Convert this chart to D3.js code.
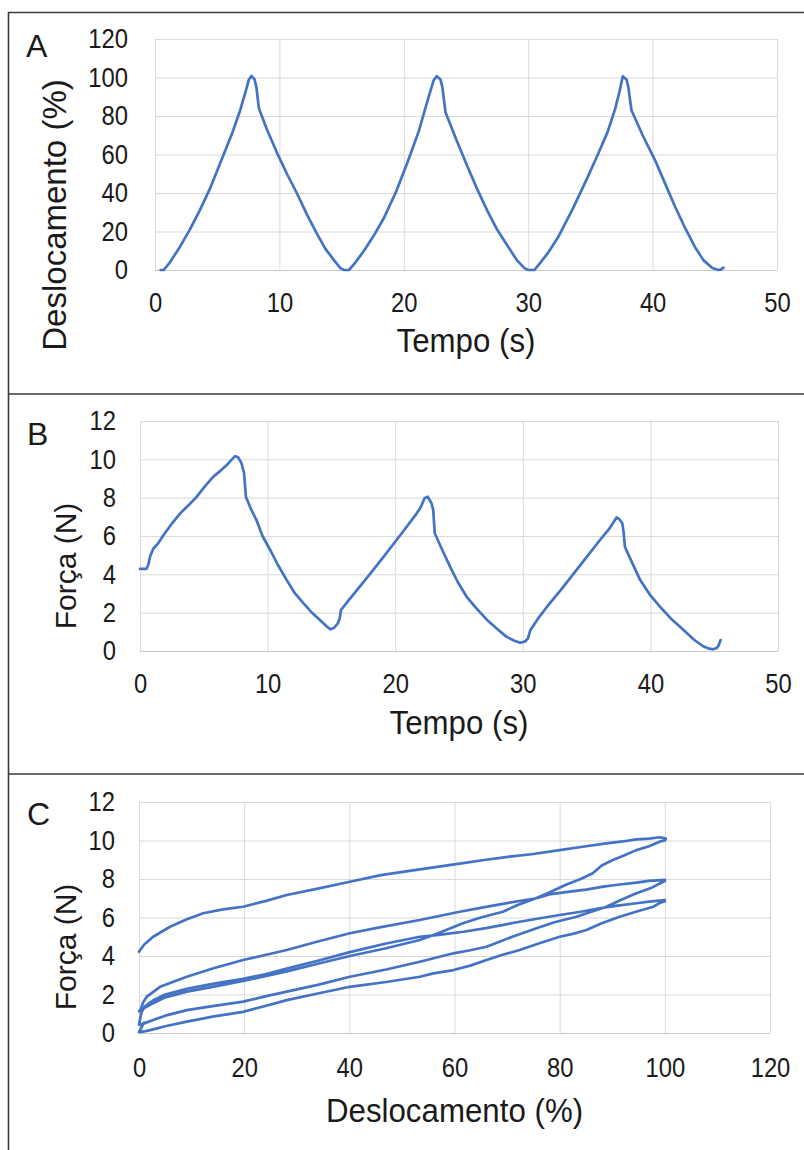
<!DOCTYPE html>
<html>
<head>
<meta charset="utf-8">
<script src="https://cdn.jsdelivr.net/npm/d3@7"></script>
<style>
    html, body { margin: 0; padding: 0; background: #fff; }
    svg text { font-family: "Liberation Sans", Arial, sans-serif; fill: #1a1a1a; }
</style>
</head>
<body>
<svg id="chart" width="804" height="1150"></svg>
<script>
// ---- data ----

// A: displacement (%) against time (s)
const timeA = [0.45, 0.7, 1.2, 2.0, 2.8, 3.6, 4.4, 5.4, 6.2, 6.85, 7.3, 7.55, 7.75, 8.0, 8.15, 8.35, 9.0, 9.8, 10.6, 11.4, 12.2, 13.0, 13.7, 14.4, 14.9, 15.2, 15.6,
    16.0, 16.8, 17.6, 18.4, 19.4, 20.3, 21.2, 22.0, 22.4, 22.65, 22.95, 23.1, 23.35, 24.2, 25.1, 25.9, 26.7, 27.5, 28.4, 29.1, 29.7, 30.0, 30.5,
    31.0, 31.6, 32.4, 33.6, 34.8, 35.6, 36.4, 37.0, 37.35, 37.6, 37.9, 38.05, 38.3, 39.2, 40.2, 41.0, 41.8, 42.6, 43.4, 44.1, 44.8, 45.3, 45.5, 45.7];
const dispA = [0, 0, 4, 12, 21, 31, 42, 58, 71, 83, 93, 99, 100.8, 99, 95, 84, 73, 61, 50, 40, 29, 19, 11, 5, 1, 0, 0,
    3, 10, 18, 27, 41, 56, 72, 90, 98.5, 100.7, 99, 95, 82, 68, 54, 42, 31, 21, 12, 5, 1, 0, 0,
    4, 9, 17, 32, 48.5, 60, 72, 84, 93, 100.6, 99, 95, 83, 70, 57, 45, 33, 22, 12, 5, 1, 0, 0.3, 1.2];

// B: force (N) against time (s)
const timeB = [0, 0.5, 0.65, 0.8, 1.05, 1.4, 1.85, 2.5, 3.15, 3.8, 4.45, 5.1, 5.75, 6.3, 6.8, 7.2, 7.45, 7.7, 7.95, 8.15, 8.25, 8.3, 8.7, 9.15, 9.6, 10.2,
    10.8, 11.5, 12.1, 12.8, 13.4, 14.1, 14.6, 14.9, 15.2, 15.5, 15.65, 15.75, 16.3, 17.0, 18.0, 19.1, 20.0, 20.9, 21.6, 22.0, 22.3, 22.55,
    22.85, 22.98, 23.1, 23.6, 24.3, 24.9, 25.6, 26.4, 27.2, 28.0, 28.7, 29.3, 29.8, 30.2, 30.4, 30.6, 31.2, 31.9, 33.0, 34.0, 35.0, 36.05,
    36.8, 37.35, 37.6, 37.8, 37.9, 38.0, 38.5, 39.2, 40.0, 40.75, 41.6, 42.6, 43.4, 44.1, 44.6, 44.9, 45.2, 45.35, 45.5];
const forceB = [4.28, 4.28, 4.5, 4.95, 5.35, 5.6, 6.05, 6.65, 7.18, 7.6, 8.05, 8.6, 9.1, 9.4, 9.7, 10.0, 10.17, 10.1, 9.8, 9.3, 8.5, 8.05, 7.4, 6.8, 6.0, 5.27,
    4.5, 3.7, 3.05, 2.5, 2.05, 1.62, 1.3, 1.13, 1.2, 1.44, 1.7, 2.14, 2.6, 3.18, 4.0, 4.92, 5.7, 6.48, 7.1, 7.5, 7.97, 8.05,
    7.7, 7.36, 6.14, 5.4, 4.4, 3.6, 2.83, 2.2, 1.62, 1.15, 0.75, 0.55, 0.43, 0.5, 0.66, 1.1, 1.7, 2.31, 3.2, 4.05, 4.9, 5.79,
    6.4, 6.97, 6.85, 6.66, 6.2, 5.44, 4.7, 3.7, 2.9, 2.31, 1.7, 1.1, 0.6, 0.26, 0.12, 0.09, 0.15, 0.3, 0.57];

// C: force (N) against displacement (%), three load/unload loops in time order
const dispC = [0, 1, 2.7, 5.9, 9, 12.2, 16, 19.8, 24, 28.1, 34, 40.1, 46, 53.4, 61, 66, 70.5, 75, 80, 85, 88.9, 92, 94.6, 97, 99, 100.2,
    100, 99, 97, 94.6, 92, 90.1, 88, 86.3, 84, 81.2, 78, 75.5, 72, 69.2, 65, 61.6, 57, 53.4, 47, 40.1, 34, 28.1, 24, 19.8, 14, 9.1, 5, 2.7, 1, 0,
    0.3, 0.8, 1.5, 4, 9.1, 14, 19.8, 24, 28.1, 34, 40.1, 46, 53.4, 61, 66, 70, 75.6, 78, 81.9, 85, 88.3, 91, 94.6, 97, 100,
    100, 97.5, 94.6, 91.5, 88.9, 86, 83.2, 79, 75.6, 71, 66.1, 63, 59.8, 53.4, 47, 40.1, 34, 28.1, 24, 19.8, 14, 9.1, 5, 2.7, 1, 0,
    0.2, 0.5, 1.2, 2.7, 5, 9.1, 14, 19.8, 24, 28.1, 34, 40.1, 47, 53.4, 57, 61.7, 66, 72.4, 76, 80, 84, 87.6, 91, 94.6, 97, 100,
    100, 99, 97.8, 94.5, 91.4, 88, 85.1, 82.5, 80, 76, 72.4, 69, 66.1, 63, 59.8, 56, 53.4, 47, 40.1, 34, 28.1, 24, 19.8, 14, 9.1, 5, 2.7, 1, 0, 0.5, 1];
const forceC = [4.22, 4.6, 5.0, 5.52, 5.9, 6.22, 6.42, 6.56, 6.85, 7.17, 7.5, 7.86, 8.2, 8.5, 8.8, 9.0, 9.16, 9.3, 9.5, 9.7, 9.85, 9.95, 10.06, 10.1, 10.17, 10.1,
    10.0, 9.94, 9.7, 9.5, 9.2, 8.99, 8.7, 8.3, 8.0, 7.7, 7.3, 7.0, 6.65, 6.3, 6.0, 5.7, 5.2, 4.83, 4.4, 4.0, 3.6, 3.2, 2.95, 2.7, 2.4, 2.15, 1.85, 1.55, 1.3, 1.13,
    1.2, 1.6, 1.89, 2.4, 2.92, 3.35, 3.79, 4.05, 4.31, 4.75, 5.18, 5.5, 5.87, 6.3, 6.55, 6.75, 7.0, 7.2, 7.34, 7.45, 7.6, 7.7, 7.81, 7.9, 7.95,
    7.9, 7.55, 7.26, 6.9, 6.56, 6.3, 6.04, 5.75, 5.44, 5.0, 4.48, 4.3, 4.14, 3.7, 3.3, 2.92, 2.5, 2.15, 1.9, 1.63, 1.4, 1.19, 0.9, 0.68, 0.5, 0.43,
    0.7, 1.1, 1.4, 1.7, 2.0, 2.3, 2.55, 2.82, 3.05, 3.35, 3.75, 4.2, 4.65, 5.0, 5.1, 5.26, 5.45, 5.78, 5.95, 6.13, 6.3, 6.48, 6.62, 6.74, 6.82, 6.9,
    6.85, 6.75, 6.56, 6.3, 6.04, 5.7, 5.35, 5.15, 5.0, 4.65, 4.31, 4.05, 3.79, 3.5, 3.27, 3.1, 2.92, 2.65, 2.4, 2.05, 1.71, 1.4, 1.1, 0.85, 0.59, 0.35, 0.19, 0.08, 0.05, 0.3, 0.55];

// axis ticks
const timeTicks = [0, 10, 20, 30, 40, 50];
const dispTicks = [0, 20, 40, 60, 80, 100, 120];
const forceTicks = [0, 2, 4, 6, 8, 10, 12];

// ---- drawing ----
const svg = d3.select('#chart');
const TICK_SIZE = 28,
    TICK_STRETCH = 0.85,
    TITLE_SIZE = 34,
    TITLE_STRETCH = 0.92,
    LINE_COLOR = '#4472c4',
    GRID_COLOR = '#d9d9d9';

// outer frame and panel separators
svg.append('path')
    .attr('d', 'M8.5,1160 V12.5 H810')
    .attr('fill', 'none')
    .attr('stroke', '#3a3a3a')
    .attr('stroke-width', 1.6);
[394, 774].forEach(yy => {
    svg.append('line')
        .attr('x1', 8).attr('x2', 810)
        .attr('y1', yy).attr('y2', yy)
        .attr('stroke', '#3a3a3a')
        .attr('stroke-width', 1.6);
});

/**
 * draw one Excel-like scatter-with-lines panel
 */
const drawPanel = (p) => {
    const g = svg.append('g');
    const x = d3.scaleLinear().domain(p.xDomain).range([p.left, p.right]);
    const y = d3.scaleLinear().domain(p.yDomain).range([p.bottom, p.top]);
    const w = p.right - p.left,
        h = p.bottom - p.top;

    const xAxis = g.append('g')
        .attr('transform', `translate(0,${p.bottom})`)
        .call(d3.axisBottom(x).tickValues(p.xTicks).tickSize(-h).tickPadding(p.xPad).tickFormat(d3.format('d')));
    const yAxis = g.append('g')
        .attr('transform', `translate(${p.left},0)`)
        .call(d3.axisLeft(y).tickValues(p.yTicks).tickSize(-w).tickPadding(0).tickFormat(d3.format('d')));

    [xAxis, yAxis].forEach(a => {
        a.attr('font-family', '"Liberation Sans", Arial, sans-serif').attr('font-size', TICK_SIZE);
        a.select('.domain').remove();
        a.selectAll('.tick line').attr('stroke', GRID_COLOR).attr('stroke-width', 1);
        a.selectAll('.tick text').attr('fill', '#1a1a1a');
    });
    yAxis.selectAll('.tick text')
        .attr('x', 0)
        .attr('transform', `translate(${-p.yPad},0) scale(${TICK_STRETCH},1)`);
    xAxis.selectAll('.tick text')
        .attr('transform', `scale(${TICK_STRETCH},1)`);
    // horizontal axis line a touch darker than the grid
    yAxis.selectAll('.tick').filter(d => d === 0).select('line').attr('stroke', '#c9c9c9');

    g.append('path')
        .datum(d3.range(p.xs.length))
        .attr('fill', 'none')
        .attr('stroke', LINE_COLOR)
        .attr('stroke-width', 2.7)
        .attr('stroke-linejoin', 'round')
        .attr('stroke-linecap', 'round')
        .attr('d', d3.line().x(i => x(p.xs[i])).y(i => y(p.ys[i])));

    g.append('text')
        .attr('transform', `translate(${(p.left + p.right) / 2},${p.bottom + p.xTitleOffset}) scale(${TITLE_STRETCH},1)`)
        .attr('text-anchor', 'middle')
        .attr('font-size', TITLE_SIZE)
        .text(p.xTitle);

    g.append('text')
        .attr('transform', `translate(${p.yTitleX},${p.yTitleY}) rotate(-90)`)
        .attr('text-anchor', 'middle')
        .attr('font-size', p.yTitleSize)
        .text(p.yTitle);

    g.append('text')
        .attr('x', p.letterX)
        .attr('y', p.letterY)
        .attr('font-size', 32)
        .text(p.letter);
};

drawPanel({
    letter: 'A', letterX: 26, letterY: 57,
    left: 155, right: 777, top: 39, bottom: 270,
    xDomain: [0, 50], yDomain: [0, 120],
    xTicks: timeTicks, yTicks: dispTicks,
    xPad: 22, yPad: 27,
    xs: timeA, ys: dispA,
    xTitle: 'Tempo (s)', xTitleOffset: 82,
    yTitle: 'Deslocamento (%)', yTitleX: 66, yTitleY: 215, yTitleSize: 33
});

drawPanel({
    letter: 'B', letterX: 27, letterY: 445,
    left: 140, right: 778, top: 421, bottom: 651,
    xDomain: [0, 50], yDomain: [0, 12],
    xTicks: timeTicks, yTicks: forceTicks,
    xPad: 22, yPad: 24,
    xs: timeB, ys: forceB,
    xTitle: 'Tempo (s)', xTitleOffset: 83,
    yTitle: 'Força (N)', yTitleX: 76, yTitleY: 566, yTitleSize: 30
});

drawPanel({
    letter: 'C', letterX: 27, letterY: 825,
    left: 139, right: 770, top: 802, bottom: 1033,
    xDomain: [0, 120], yDomain: [0, 12],
    xTicks: dispTicks, yTicks: forceTicks,
    xPad: 24, yPad: 24,
    xs: dispC, ys: forceC,
    xTitle: 'Deslocamento (%)', xTitleOffset: 89,
    yTitle: 'Força (N)', yTitleX: 76, yTitleY: 947, yTitleSize: 30
});
</script>
</body>
</html>
